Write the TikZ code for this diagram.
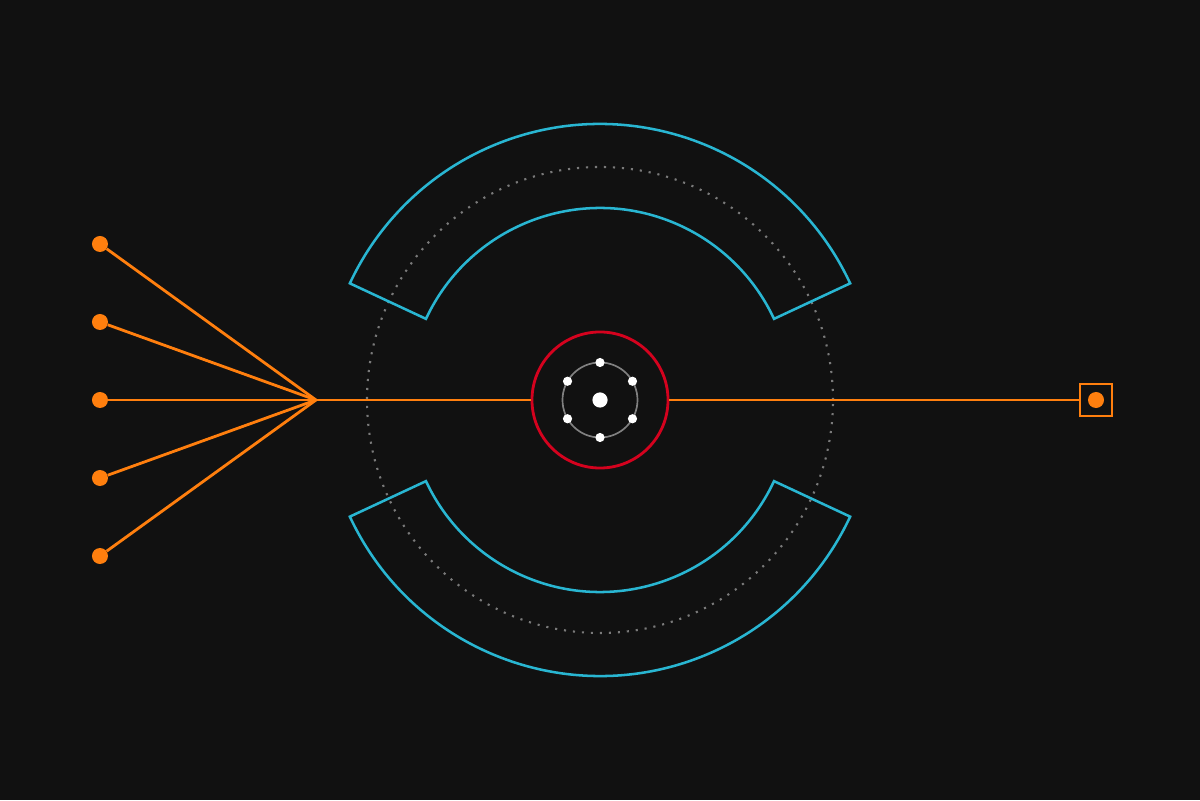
\documentclass[tikz,border=0pt]{standalone}
\usetikzlibrary{positioning}
\definecolor{bgdark}{HTML}{111111}
\definecolor{wireorange}{HTML}{FF7F0E}
\definecolor{bandcyan}{HTML}{29B6D2}
\definecolor{corered}{HTML}{D4021E}
\definecolor{ringgray}{HTML}{808080}
\definecolor{dotgray}{HTML}{7A7A7A}

\begin{document}
\begin{tikzpicture}[x=0.025cm,y=0.025cm,
		pin/.style={circle,fill=wireorange,inner sep=0pt,minimum size=0.4cm},
		wire/.style={wireorange,line width=2pt},
		band/.style={bandcyan,line width=1.8pt,line join=miter},
		satellite/.style={circle,fill=white,inner sep=0pt,minimum size=0.23cm}]
				      \fill[bgdark] (-600,-400) rectangle (600,400);
				      \draw[dotgray,line width=1.5pt,dash pattern=on 1.5pt off 4.9pt] (0,0) circle (233);
				      \draw[band] (25:276) arc (25:155:276) -- (155:192) arc (155:25:192) -- cycle;
				      \draw[band] (205:276) arc (205:335:276) -- (335:192) arc (335:205:192) -- cycle;
				      \node[circle,draw=corered,line width=2pt,minimum size=3.4cm,inner sep=0pt] (core) at (0,0) {};
				      \draw[ringgray,line width=1.2pt] (core.center) circle (37.5);
				      \foreach \a in {30,90,...,330}
				      	\node[satellite] (sat\a) at (\a:37.5) {};
				      \node[circle,fill=white,inner sep=0pt,minimum size=0.38cm] (nucleus) at (0,0) {};
				      \coordinate (hub) at (-284,0);
				      \foreach \i/\y in {1/156,2/78,3/0,4/-78,5/-156} {
				      	\node[pin] (pin\i) at (-500,\y) {};
				      	\draw[wire] (hub) -- (pin\i);
				      }
				      \draw[wire] (hub) -- (core.west);
				      \node[draw=wireorange,line width=2pt,minimum size=0.8cm,inner sep=0pt] (sink) at (496,0) {};
				      \node[pin] (sinkdot) at (sink.center) {};
				      \draw[wire] (core.east) -- (sink.west);
			      \end{tikzpicture}
\end{document}
